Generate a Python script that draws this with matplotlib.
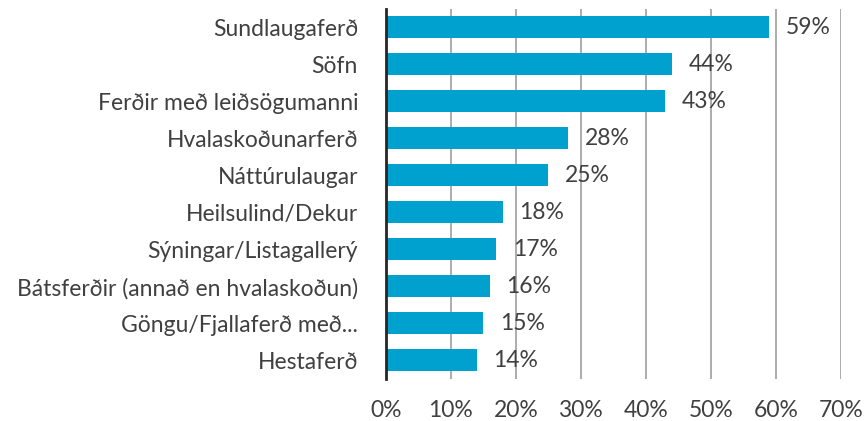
import matplotlib.pyplot as plt
from matplotlib.ticker import FuncFormatter

categories = [
    "Sundlaugaferð",
    "Söfn",
    "Ferðir með leiðsögumanni",
    "Hvalaskoðunarferð",
    "Náttúrulaugar",
    "Heilsulind/Dekur",
    "Sýningar/Listagallerý",
    "Bátsferðir (annað en hvalaskoðun)",
    "Göngu/Fjallaferð með...",
    "Hestaferð",
]
values = [59, 44, 43, 28, 25, 18, 17, 16, 15, 14]
x_ticks = [0, 10, 20, 30, 40, 50, 60, 70]

plt.rcParams["font.family"] = ["Lato", "DejaVu Sans"]

fig = plt.figure(figsize=(8.67, 4.21), dpi=100)
ax = fig.add_axes([0.445, 0.100, 0.525, 0.879])

ypos = list(range(len(categories)))
ax.barh(ypos, values, height=0.6, color="#00a0cf", zorder=3)

for y, v in zip(ypos, values):
    ax.annotate(f"{v}%", xy=(v, y), xytext=(12, 0), textcoords="offset points",
                va="center", ha="left", fontsize=16.5, color="#404040", zorder=4)

ax.set_xlim(0, 70)
ax.set_ylim(len(categories) - 0.5, -0.5)
ax.set_xticks(x_ticks)
ax.xaxis.set_major_formatter(FuncFormatter(lambda x, _: f"{x:.0f}%"))
ax.set_yticks(ypos)
ax.set_yticklabels(categories)

ax.grid(axis="x", color="#a6a6a6", linewidth=1.3, zorder=0)
for side in ["top", "right", "bottom"]:
    ax.spines[side].set_visible(False)
ax.spines["left"].set_color("#262626")
ax.spines["left"].set_linewidth(2)
ax.spines["left"].set_zorder(5)
ax.tick_params(axis="both", length=0, labelsize=16.5, labelcolor="#404040")
ax.tick_params(axis="x", pad=15)
ax.tick_params(axis="y", pad=20)

fig.savefig("out.png", dpi=100)
